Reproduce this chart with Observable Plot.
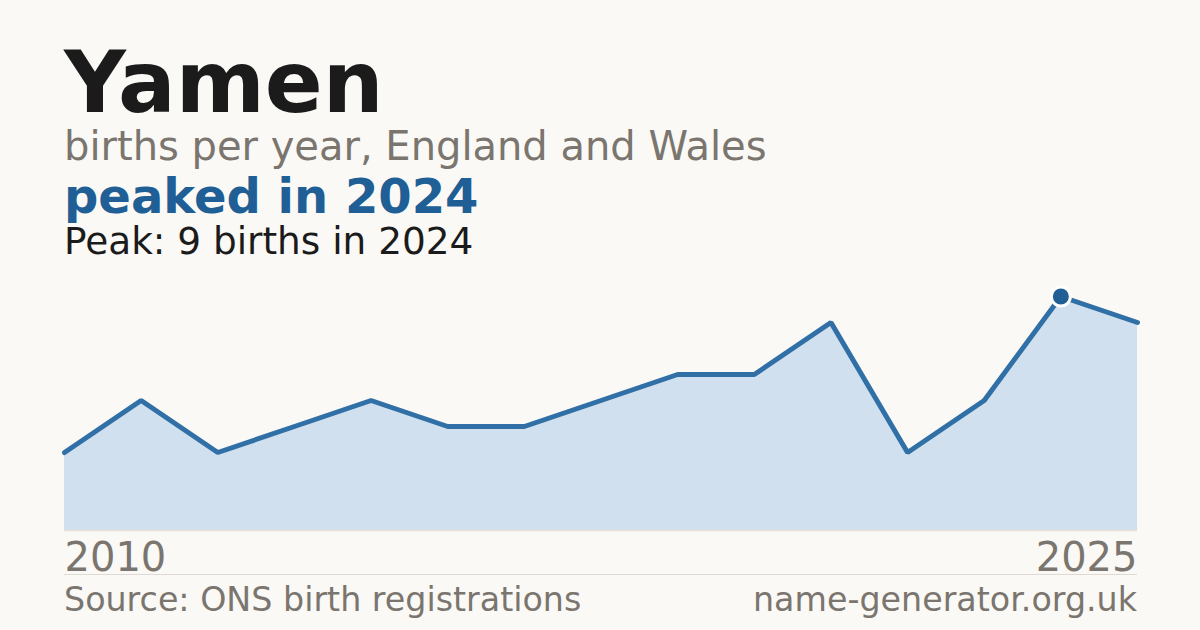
<!DOCTYPE html>
<html>
<head>
<meta charset="utf-8">
<script src="https://cdn.jsdelivr.net/npm/d3@7"></script>
<script src="https://cdn.jsdelivr.net/npm/@observablehq/plot@0.6"></script>
<style>
  html, body { margin: 0; padding: 0; }
  body { width: 1200px; height: 630px; background: #faf9f5; position: relative; overflow: hidden;
         font-family: "DejaVu Sans", sans-serif; }
  .t { position: absolute; left: 64px; line-height: 0.9; white-space: nowrap; }
  #title { top: 45.1px; font-size: 85.5px; font-weight: bold; color: #1b1b1b; }
  #sub { top: 128.2px; font-size: 40px; color: #7a756e; }
  #peaked { top: 175.2px; font-size: 48px; font-weight: bold; color: #1f5f96; }
  #peakline { top: 225.2px; font-size: 37.4px; color: #1b1b1b; }
  #chart { position: absolute; left: 0; top: 260px; }
  #sep { position: absolute; left: 64px; top: 574px; width: 1073px; height: 1px; background: #dedad3; }
  .foot { position: absolute; top: 582.8px; font-size: 33.3px; color: #7a756e; line-height: 1; white-space: nowrap; }
  #src { left: 64px; }
  #site { right: 63px; }
</style>
</head>
<body>
<div class="t" id="title"></div>
<div class="t" id="sub"></div>
<div class="t" id="peaked"></div>
<div class="t" id="peakline"></div>
<div id="chart"></div>
<div id="sep"></div>
<div class="foot" id="src"></div>
<div class="foot" id="site"></div>
<script>
const name = "Yamen";
const subtitle = "births per year, England and Wales";
const headline = "peaked in 2024";
const peakText = "Peak: 9 births in 2024";
const source = "Source: ONS birth registrations";
const site = "name-generator.org.uk";

// years with data (one year without a published count), plotted evenly by index
const years = [2010, 2011, 2012, 2013, 2014, 2015, 2016, 2017, 2018, 2019, 2021, 2022, 2023, 2024, 2025];
const births = [3, 5, 3, 4, 5, 4, 4, 5, 6, 6, 8, 3, 5, 9, 8];
const tickLabels = ["2010", "2025"];

document.getElementById("title").textContent = name;
document.getElementById("sub").textContent = subtitle;
document.getElementById("peaked").textContent = headline;
document.getElementById("peakline").textContent = peakText;
document.getElementById("src").textContent = source;
document.getElementById("site").textContent = site;

const data = years.map((year, i) => ({i, year, births: births[i]}));
const peakIdx = births.indexOf(d3.max(births));
const peak = [data[peakIdx]];
const first = [{i: 0, label: tickLabels[0]}];
const last = [{i: data.length - 1, label: tickLabels[1]}];

const chart = Plot.plot({
  width: 1200,
  height: 330,
  marginLeft: 64,
  marginRight: 63,
  marginTop: 36,
  marginBottom: 60,
  style: {background: "transparent", fontFamily: "DejaVu Sans, sans-serif", overflow: "visible"},
  x: {domain: [0, data.length - 1], axis: null},
  y: {domain: [0, 9], axis: null},
  marks: [
    Plot.areaY(data, {x: "i", y: "births", fill: "#d0e0ef"}),
    Plot.ruleY([0], {stroke: "#e6dfd3", strokeWidth: 1.5}),
    Plot.lineY(data, {x: "i", y: "births", stroke: "#3170a6", strokeWidth: 5, strokeLinejoin: "miter"}),
    Plot.dot(peak, {x: "i", y: "births", r: 9.5, fill: "#1f5f96", stroke: "#ffffff", strokeWidth: 3}),
    Plot.text(first, {x: "i", y: () => 0, text: "label", textAnchor: "start", lineAnchor: "bottom", dy: 40, fontSize: 40, fill: "#7a756e"}),
    Plot.text(last, {x: "i", y: () => 0, text: "label", textAnchor: "end", lineAnchor: "bottom", dy: 40, fontSize: 40, fill: "#7a756e"})
  ]
});
document.getElementById("chart").appendChild(chart);
</script>
</body>
</html>
